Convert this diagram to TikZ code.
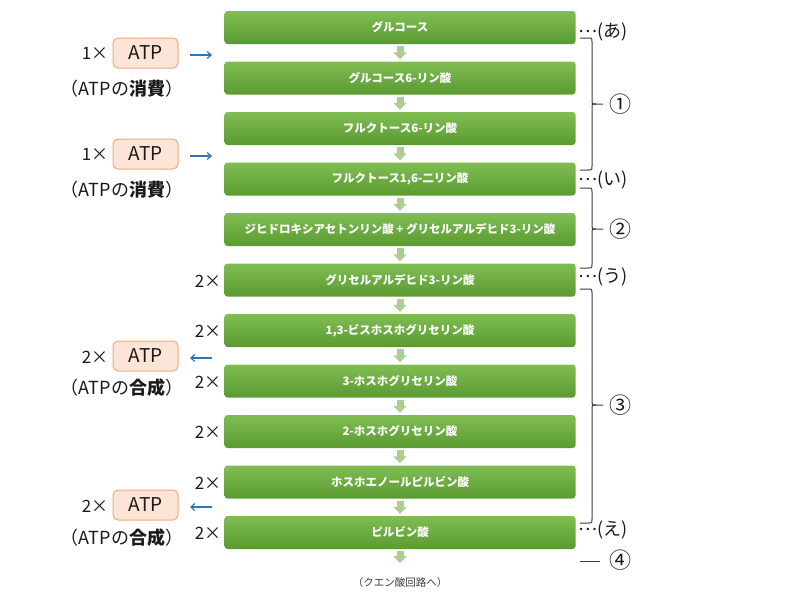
\documentclass[tikz,border=0pt]{standalone}
\usepackage{fontspec}
\setmainfont{Noto Sans CJK JP}
\usetikzlibrary{arrows.meta}
\definecolor{gtop}{RGB}{128,190,84}
\definecolor{gbot}{RGB}{90,154,48}
\definecolor{arrg}{RGB}{172,206,146}
\definecolor{peach}{RGB}{252,228,214}
\definecolor{peachline}{RGB}{240,170,125}
\definecolor{bluearr}{RGB}{46,117,182}
\definecolor{ink}{RGB}{26,26,26}
\definecolor{brk}{RGB}{60,60,60}
\newcommand{\middots}{\raisebox{0.3em}{…}}
\begin{document}
\begin{tikzpicture}[x=1pt,y=-1pt,
  stepbox/.style={rectangle, rounded corners=3pt, minimum width=351pt, minimum height=33pt,
    top color=gtop, bottom color=gbot, draw=none, text=white, inner sep=0pt,
    font=\fontsize{11.5}{13}\selectfont\bfseries},
  downarr/.style={draw=arrg, line width=7pt, -{Triangle[width=13pt,length=7pt]}},
  atpbox/.style={rectangle, rounded corners=5pt, minimum width=65pt, minimum height=30pt,
    fill=peach, draw=peachline, line width=1pt, text=ink, inner sep=0pt,
    font=\fontsize{19}{21}\selectfont},
  mult/.style={text=ink, inner sep=0pt, font=\fontsize{17}{19}\selectfont},
  note/.style={text=ink, inner sep=0pt, font=\fontsize{18}{20}\selectfont},
  rlabel/.style={text=ink, inner sep=0pt, anchor=west, font=\fontsize{18}{20}\selectfont},
  circnum/.style={text=ink, inner sep=0pt, font=\fontsize{22}{24}\selectfont},
  bluearrow/.style={bluearr, line width=1.2pt, -{Straight Barb[length=4pt,width=7pt]}},
  brace/.style={brk, line width=1pt}
]
\useasboundingbox (0,0) rectangle (800,600);

% main boxes
\node[stepbox] (b0) at (400,27.5) {グルコース};
\node[stepbox] (b1) at (400,78) {グルコース6-リン酸};
\node[stepbox] (b2) at (400,128.5) {フルクトース6-リン酸};
\node[stepbox] (b3) at (400,179) {フルクトース1,6-二リン酸};
\node[stepbox] (b4) at (400,229.5) {ジヒドロキシアセトンリン酸 + グリセルアルデヒド3-リン酸};
\node[stepbox] (b5) at (400,280) {グリセルアルデヒド3-リン酸};
\node[stepbox] (b6) at (400,330.5) {1,3-ビスホスホグリセリン酸};
\node[stepbox] (b7) at (400,381) {3-ホスホグリセリン酸};
\node[stepbox] (b8) at (400,431.5) {2-ホスホグリセリン酸};
\node[stepbox] (b9) at (400,482) {ホスホエノールピルビン酸};
\node[stepbox] (b10) at (400,532.5) {ピルビン酸};

% down arrows
\foreach \a/\b in {b0/b1,b1/b2,b2/b3,b3/b4,b4/b5,b5/b6,b6/b7,b7/b8,b8/b9,b9/b10}
  \draw[downarr] ([yshift=-2pt]\a.south) -- ([yshift=2pt]\b.north);
\coordinate (tca) at (400,563);
\draw[downarr] ([yshift=-2pt]b10.south) -- (tca);
\node[text=ink!85, inner sep=0pt, font=\fontsize{10.5}{12}\selectfont] (tcatext) at (400,582) {（クエン酸回路へ）};

% multipliers next to boxes
\node[mult] (m5) at (208,281) {2×};
\node[mult] (m6) at (208,331.5) {2×};
\node[mult] (m7) at (208,382) {2×};
\node[mult] (m8) at (208,432.5) {2×};
\node[mult] (m9) at (208,483) {2×};
\node[mult] (m10) at (208,533.5) {2×};

% ATP consumption 1
\node[mult] (c1n) at (95,53) {1×};
\node[atpbox] (c1) at (145.5,53) {ATP};
\node[note] (c1t) at (122,89) {（ATPの\textbf{消費}）};
\coordinate (c1a) at (190,55);
\coordinate (c1b) at (212,55);
\draw[bluearrow] (c1a) -- (c1b);

% ATP consumption 2
\node[mult] (c2n) at (95,154) {1×};
\node[atpbox] (c2) at (145.5,154) {ATP};
\node[note] (c2t) at (122,190) {（ATPの\textbf{消費}）};
\coordinate (c2a) at (190,156);
\coordinate (c2b) at (212,156);
\draw[bluearrow] (c2a) -- (c2b);

% ATP synthesis 1
\node[mult] (s1n) at (95,357) {2×};
\node[atpbox] (s1) at (145.5,356) {ATP};
\node[note] (s1t) at (122,388) {（ATPの\textbf{合成}）};
\coordinate (s1a) at (212,358);
\coordinate (s1b) at (190,358);
\draw[bluearrow] (s1a) -- (s1b);

% ATP synthesis 2
\node[mult] (s2n) at (95,506) {2×};
\node[atpbox] (s2) at (145.5,505) {ATP};
\node[note] (s2t) at (122,538) {（ATPの\textbf{合成}）};
\coordinate (s2a) at (212,507);
\coordinate (s2b) at (190,507);
\draw[bluearrow] (s2a) -- (s2b);

% right labels
\node[rlabel] (la) at (578,32) {\middots(あ)};
\node[rlabel] (li) at (578,180) {\middots(い)};
\node[rlabel] (lu) at (578,277) {\middots(う)};
\node[rlabel] (le) at (578,530) {\middots(え)};

% braces
\draw[brace] (580,38) -- (588,38) .. controls (592,38) .. (592,42) -- (592,100)
  .. controls (592,104) .. (596,104) -- (603,104);
\draw[brace] (596,104) .. controls (592,104) .. (592,108) -- (592,166)
  .. controls (592,170) .. (588,170) -- (580,170);
\node[circnum] (n1) at (620,104) {①};

\draw[brace] (580,188) -- (588,188) .. controls (592,188) .. (592,192) -- (592,225)
  .. controls (592,229) .. (596,229) -- (603,229);
\draw[brace] (596,229) .. controls (592,229) .. (592,233) -- (592,264)
  .. controls (592,268) .. (588,268) -- (580,268);
\node[circnum] (n2) at (620,229) {②};

\draw[brace] (580,289) -- (588,289) .. controls (592,289) .. (592,293) -- (592,401)
  .. controls (592,405) .. (596,405) -- (603,405);
\draw[brace] (596,405) .. controls (592,405) .. (592,409) -- (592,519)
  .. controls (592,523) .. (588,523) -- (580,523);
\node[circnum] (n3) at (620,405) {③};

\coordinate (d4a) at (580,561);
\coordinate (d4b) at (600,561);
\draw[brace] (d4a) -- (d4b);
\node[circnum] (n4) at (620,560) {④};
\end{tikzpicture}
\end{document}
